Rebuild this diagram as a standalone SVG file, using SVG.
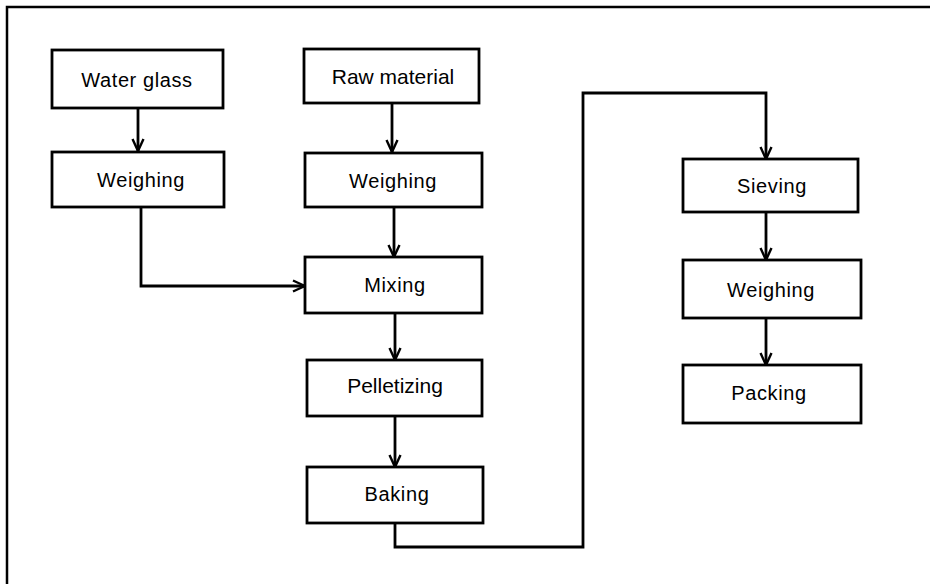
<svg xmlns="http://www.w3.org/2000/svg" width="930" height="584" viewBox="0 0 930 584">
<defs>
<style>
.box{fill:#fff;stroke:#000;stroke-width:2.8}
.lbl{font-family:"Liberation Sans",Arial,sans-serif;font-size:20px;fill:#000;text-anchor:middle;dominant-baseline:central}
.g{letter-spacing:0.6px}
.a{font-size:21px}
.con{fill:none;stroke:#000;stroke-width:2.8;stroke-linejoin:miter}
</style>
<marker id="ah" viewBox="0 0 14 14" refX="13" refY="7" markerWidth="14" markerHeight="14" markerUnits="userSpaceOnUse" orient="auto">
<path d="M1,1.5 L13,7 L1,12.5" fill="none" stroke="#000" stroke-width="2.4"/>
</marker>
</defs>
<rect width="930" height="584" fill="#fff"/>
<path d="M7,584 V7 H930" fill="none" stroke="#000" stroke-width="2.5"/>

<g id="connectors">
<path class="con" d="M138,108 V151" marker-end="url(#ah)"/>
<path class="con" d="M392,103 V152" marker-end="url(#ah)"/>
<path class="con" d="M141,207 V286 H305" marker-end="url(#ah)"/>
<path class="con" d="M394,207 V257" marker-end="url(#ah)"/>
<path class="con" d="M395,313 V360" marker-end="url(#ah)"/>
<path class="con" d="M395,416 V467" marker-end="url(#ah)"/>
<path class="con" d="M395,523 V547 H583 V93 H766 V159" marker-end="url(#ah)"/>
<path class="con" d="M766,212 V260" marker-end="url(#ah)"/>
<path class="con" d="M766,318 V365" marker-end="url(#ah)"/>
</g>

<g id="water_glass"><rect class="box" x="52" y="50" width="171" height="58"/><text class="lbl g" x="137" y="80">Water glass</text></g>
<g id="weighing1"><rect class="box" x="52" y="152" width="172" height="55"/><text class="lbl g" x="141" y="180">Weighing</text></g>
<g id="raw_material"><rect class="box" x="304" y="49" width="175" height="54"/><text class="lbl a" x="393" y="76">Raw material</text></g>
<g id="weighing2"><rect class="box" x="305" y="153" width="177" height="54"/><text class="lbl g" x="393" y="181">Weighing</text></g>
<g id="mixing"><rect class="box" x="305" y="257" width="177" height="56"/><text class="lbl g" x="395" y="285">Mixing</text></g>
<g id="pelletizing"><rect class="box" x="307" y="360" width="175" height="56"/><text class="lbl a" x="395" y="385">Pelletizing</text></g>
<g id="baking"><rect class="box" x="307" y="467" width="176" height="56"/><text class="lbl g" x="397" y="494">Baking</text></g>
<g id="sieving"><rect class="box" x="683" y="159" width="175" height="53"/><text class="lbl g" x="772" y="186">Sieving</text></g>
<g id="weighing3"><rect class="box" x="683" y="260" width="178" height="58"/><text class="lbl g" x="771" y="290">Weighing</text></g>
<g id="packing"><rect class="box" x="683" y="365" width="178" height="58"/><text class="lbl g" x="769" y="393">Packing</text></g>
</svg>
